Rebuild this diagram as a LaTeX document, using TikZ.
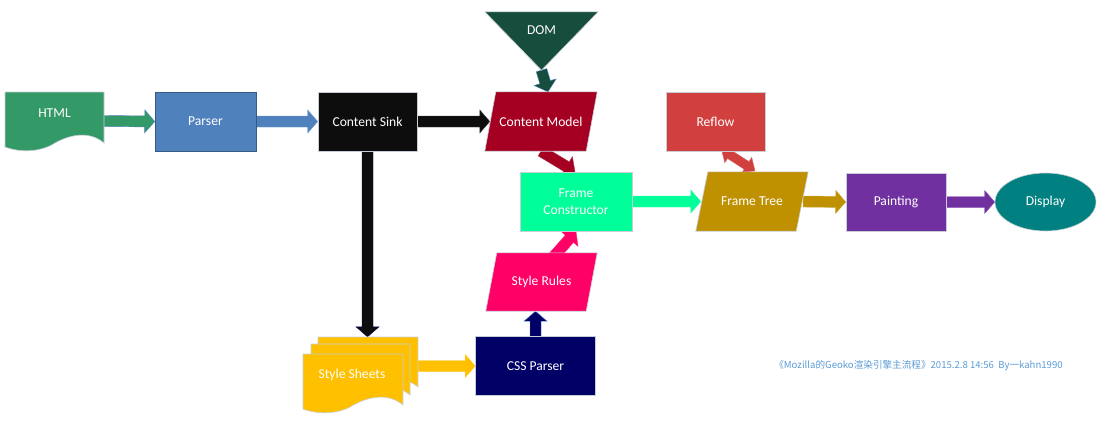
\documentclass[tikz,border=0pt]{standalone}
\usepackage{fontspec}
\setmainfont{Carlito}
\newfontfamily\cjk{Noto Sans CJK SC}
\usetikzlibrary{calc,shapes.geometric}
\pgfdeclarelayer{arrowlayer}
\pgfdeclarelayer{bg}
\pgfsetlayers{arrowlayer,bg,main}
\definecolor{chtml}{HTML}{339966}
\definecolor{cparser}{HTML}{4F81BD}
\definecolor{csink}{HTML}{0D0D0D}
\definecolor{cmodel}{HTML}{A50021}
\definecolor{cdom}{HTML}{174D3D}
\definecolor{creflow}{HTML}{D13F3F}
\definecolor{cfc}{HTML}{00FF99}
\definecolor{crules}{HTML}{FF0066}
\definecolor{ccss}{HTML}{000066}
\definecolor{csheets}{HTML}{FFC000}
\definecolor{ctree}{HTML}{BF9000}
\definecolor{cpaint}{HTML}{7030A0}
\definecolor{cdisp}{HTML}{008080}
\definecolor{ccap}{HTML}{5B9BD5}
\definecolor{cedge}{HTML}{C8CED6}
% block arrow: #1 fill options, #2 start, #3 end
\newcommand\barrow[3]{%
  \coordinate (ba-s) at (#2);
  \coordinate (ba-e) at (#3);
  \coordinate (ba-h) at ($(ba-e)!10pt!(ba-s)$);
  \filldraw[#1] ($(ba-s)!5.5pt!90:(ba-e)$) -- ($(ba-h)!5.5pt!90:(ba-e)$) --
    ($(ba-h)!11.5pt!90:(ba-e)$) -- (ba-e) -- ($(ba-h)!11.5pt!-90:(ba-e)$) --
    ($(ba-h)!5.5pt!-90:(ba-e)$) -- ($(ba-s)!5.5pt!-90:(ba-e)$) -- cycle;}
% double block arrow
\newcommand\dbarrow[3]{%
  \coordinate (da-s) at (#2);
  \coordinate (da-e) at (#3);
  \coordinate (da-h) at ($(da-e)!10pt!(da-s)$);
  \coordinate (da-g) at ($(da-s)!10pt!(da-e)$);
  \filldraw[#1] (da-s) -- ($(da-g)!9.5pt!-90:(da-e)$) -- ($(da-g)!4.5pt!-90:(da-e)$) --
    ($(da-h)!4.5pt!90:(da-s)$) -- ($(da-h)!9.5pt!90:(da-s)$) -- (da-e) --
    ($(da-h)!9.5pt!-90:(da-s)$) -- ($(da-h)!4.5pt!-90:(da-s)$) --
    ($(da-g)!4.5pt!90:(da-e)$) -- ($(da-g)!9.5pt!90:(da-e)$) -- cycle;}
% document shape outline (local coords)
\newcommand\docpath{(0,0) -- (99,0) -- (99,51) .. controls (85,39) and (66,42) .. (50,51)
  .. controls (36,60) and (16,61) .. (0,55) -- cycle}
\begin{document}
\begin{tikzpicture}[x=1pt,y=-1pt,
  lbl/.style={text=white, font=\fontsize{13.6}{17}\selectfont, inner sep=0pt, align=center},
  box/.style={lbl, draw=cedge, line width=0.6pt},
  ghost/.style={lbl, draw=none, fill=none},
  shapeline/.style={draw=cedge, line width=0.6pt},
  arr/.style={draw=#1!80!white, line width=0.4pt, fill=#1}]
\useasboundingbox (0,0) rectangle (1098,421);

% ---------- nodes ----------
\node[ghost, minimum width=99pt, minimum height=58pt,
  label={[lbl, yshift=8pt]center:HTML}] (html) at (54.5,121) {};
\node[box, fill=cparser, draw=cparser!70!black, minimum width=101pt, minimum height=59pt] (parser) at (205.5,121.5) {Parser};
\node[box, fill=csink, minimum width=99pt, minimum height=59pt] (cs) at (367.5,121.5) {Content Sink};
\node[ghost, minimum width=112pt, minimum height=59pt] (cm) at (541,121.5) {Content Model};
\node[ghost, minimum width=113pt, minimum height=58pt,
  label={[lbl, yshift=11pt]center:DOM}] (dom) at (541.5,41) {};
\node[box, fill=creflow, minimum width=99pt, minimum height=59pt] (reflow) at (715.5,121.5) {Reflow};
\node[box, fill=cfc, minimum width=112pt, minimum height=59pt] (fc) at (576,201.5) {Frame\\Constructor};
\node[ghost, minimum width=112pt, minimum height=59pt] (ft) at (752,201.5) {Frame Tree};
\node[box, fill=cpaint, minimum width=100pt, minimum height=58pt] (paint) at (896,202) {Painting};
\node[box, ellipse, fill=cdisp, minimum width=101pt, minimum height=58pt] (disp) at (1045.5,202) {Display};
\node[ghost, minimum width=111pt, minimum height=58pt] (sr) at (541.5,282) {Style Rules};
\node[box, fill=ccss, minimum width=120pt, minimum height=59pt] (cssp) at (535.5,366) {CSS Parser};
\node[ghost, minimum width=116pt, minimum height=76pt,
  label={[lbl, xshift=-8pt]center:Style Sheets}] (ss) at (360,375) {};

\node[text=ccap, font=\cjk\fontsize{9.6}{11}\selectfont, inner sep=0pt] (cap) at (918.5,366)
  {《Mozilla的Geoko渲染引擎主流程》2015.2.8 14:56\ \ By一kahn1990};

% ---------- shape fills ----------
\begin{pgfonlayer}{bg}
  \begin{scope}[shift={(5,92)}]
    \filldraw[fill=chtml, shapeline] \docpath;
  \end{scope}
  \filldraw[fill=cmodel, shapeline] ([xshift=11pt]cm.north west) -- (cm.north east)
    -- ([xshift=-11pt]cm.south east) -- (cm.south west) -- cycle;
  \filldraw[fill=cdom, shapeline] (dom.north west) -- (dom.north east) -- (dom.south) -- cycle;
  \filldraw[fill=ctree, shapeline] ([xshift=12pt]ft.north west) -- (ft.north east)
    -- ([xshift=-12pt]ft.south east) -- (ft.south west) -- cycle;
  \filldraw[fill=crules, shapeline] ([xshift=11pt]sr.north west) -- (sr.north east)
    -- ([xshift=-11pt]sr.south east) -- (sr.south west) -- cycle;
  \begin{scope}[shift={(318,337)}, xscale=1.01, yscale=0.98]
    \filldraw[fill=csheets, shapeline] \docpath;
  \end{scope}
  \begin{scope}[shift={(311,344)}]
    \filldraw[fill=csheets, shapeline] \docpath;
  \end{scope}
  \begin{scope}[shift={(303,354)}, xscale=1.01]
    \filldraw[fill=csheets, shapeline] \docpath;
  \end{scope}
\end{pgfonlayer}

% ---------- connectors ----------
\begin{pgfonlayer}{arrowlayer}
  \barrow{arr=chtml, draw=cparser}{html.east}{parser.west}
  \barrow{arr=cparser}{parser.east}{cs.west}
  \barrow{arr=csink}{cs.east}{[xshift=5pt]cm.west}
  \barrow{arr=cdom, draw=cparser}{dom.south}{[xshift=7pt]cm.north}
  \barrow{arr=csink, draw=ccss}{cs.south}{cs.south |- ss.north}
  \barrow{arr=csheets}{ss.east |- cssp.west}{cssp.west}
  \barrow{arr=ccss, draw=cparser}{cssp.north}{cssp.north |- sr.south}
  \barrow{arr=crules}{[xshift=12pt,yshift=-4pt]sr.north}{fc.south}
  \barrow{arr=cmodel}{cm.south}{[xshift=-1pt]fc.north}
  \barrow{arr=cfc}{fc.east}{[xshift=5pt]ft.west}
  \dbarrow{arr=creflow}{[xshift=6pt,yshift=2pt]reflow.south}{[xshift=3pt,yshift=1pt]ft.north}
  \barrow{arr=ctree}{[xshift=-5pt]ft.east}{paint.west}
  \barrow{arr=cpaint}{paint.east}{disp.west}
\end{pgfonlayer}
\end{tikzpicture}
\end{document}
